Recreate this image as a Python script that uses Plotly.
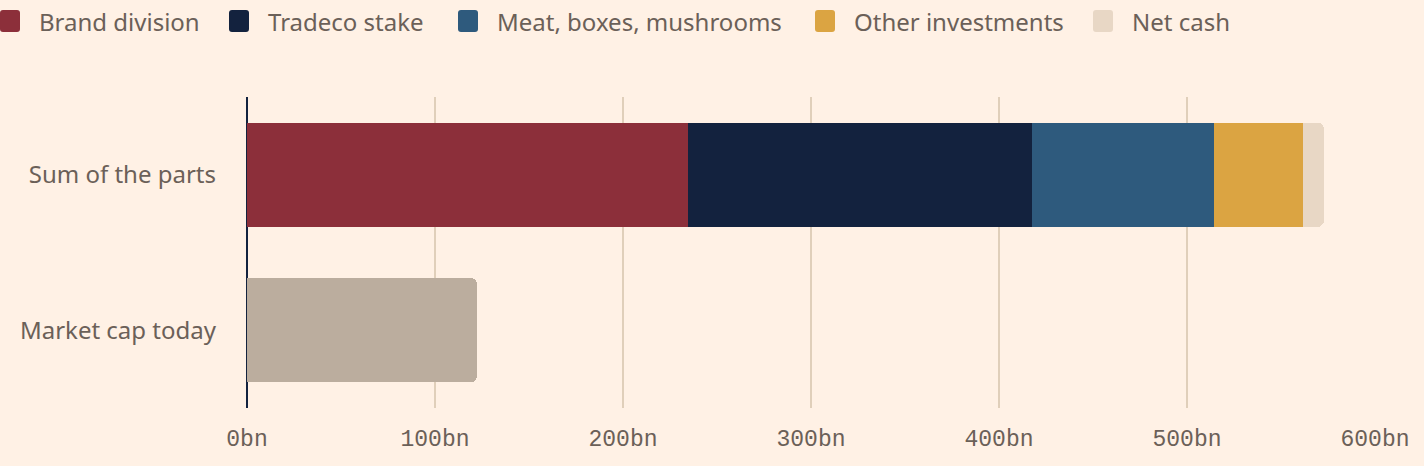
import plotly.graph_objects as go

categories = ['Market cap today', 'Sum of the parts']
segments = ['Brand division', 'Tradeco stake', 'Meat, boxes, mushrooms', 'Other investments', 'Net cash']
sum_of_parts = [234.6, 183.0, 97.0, 47.0, 11.2]   # bn
market_cap = 122.3                                   # bn
tick_vals = [0, 100, 200, 300, 400, 500, 600]
tick_text = ['0bn', '100bn', '200bn', '300bn', '400bn', '500bn', '600bn']

colors = ['#8c2f3a', '#13223e', '#2e5a7d', '#dba442', '#e8d7c5']
mcap_color = '#bbad9e'
bg = '#fff1e5'
text_color = '#6b6058'
W, H = 1424, 466
ml, mr, mt, mb = 247, 49, 97, 58
pw, ph = W - ml - mr, H - mt - mb


def px_x(p):
    return (p - ml) / pw


def px_y(p):
    return 1 + (mt - p) / ph


def rounded_box(x0, y0, x1, y1, r=3):
    # rounded rectangle path in paper coords, given pixel corners
    X = lambda v: f'{px_x(v):.5f}'
    Y = lambda v: f'{px_y(v):.5f}'
    return ' '.join([
        f'M{X(x0 + r)},{Y(y0)}',
        f'L{X(x1 - r)},{Y(y0)} Q{X(x1)},{Y(y0)} {X(x1)},{Y(y0 + r)}',
        f'L{X(x1)},{Y(y1 - r)} Q{X(x1)},{Y(y1)} {X(x1 - r)},{Y(y1)}',
        f'L{X(x0 + r)},{Y(y1)} Q{X(x0)},{Y(y1)} {X(x0)},{Y(y1 - r)}',
        f'L{X(x0)},{Y(y0 + r)} Q{X(x0)},{Y(y0)} {X(x0 + r)},{Y(y0)} Z',
    ])


fig = go.Figure()
for name, val, col in zip(segments, sum_of_parts, colors):
    fig.add_trace(go.Bar(y=[categories[1]], x=[val], name=name, orientation='h',
                         marker_color=col, marker_line_width=0, showlegend=False))
fig.add_trace(go.Bar(y=[categories[0]], x=[market_cap], name='Market cap', orientation='h',
                     marker_color=mcap_color, marker_line_width=0, showlegend=False))

# legend drawn by hand so the boxes match the reference
box_x = [0, 229, 458, 815, 1093]
for name, col, px in zip(segments, colors, box_x):
    fig.add_shape(type='path', xref='paper', yref='paper',
                  path=rounded_box(px, 10, px + 20, 32), fillcolor=col, line_width=0)
    fig.add_annotation(xref='paper', yref='paper', x=px_x(px + 37), y=px_y(21),
                       text=name, showarrow=False, xanchor='left', yanchor='middle',
                       font=dict(family='Noto Sans', size=24, color=text_color))

fig.update_layout(
    width=W, height=H, barmode='stack', bargap=0.33, barcornerradius=6,
    paper_bgcolor=bg, plot_bgcolor=bg,
    margin=dict(l=ml, r=mr, t=mt, b=mb),
    font=dict(family='Noto Sans', size=24, color=text_color),
    xaxis=dict(range=[0, 600], tickvals=tick_vals, ticktext=tick_text,
               showgrid=True, gridcolor='#e0cfba', gridwidth=2,
               zeroline=True, zerolinecolor='#13223e', zerolinewidth=2,
               ticks='', ticklabelstandoff=14,
               tickfont=dict(family='Liberation Mono', size=23, color=text_color)),
    yaxis=dict(categoryorder='array', categoryarray=categories, showgrid=False,
               zeroline=False, ticks='', ticklabelstandoff=30,
               tickfont=dict(family='Noto Sans', size=24, color=text_color)),
)

fig.write_html('out.html', config={'displayModeBar': False},
               post_script="document.body.style.margin='0';"
                           "document.body.style.background='#fff1e5';")
